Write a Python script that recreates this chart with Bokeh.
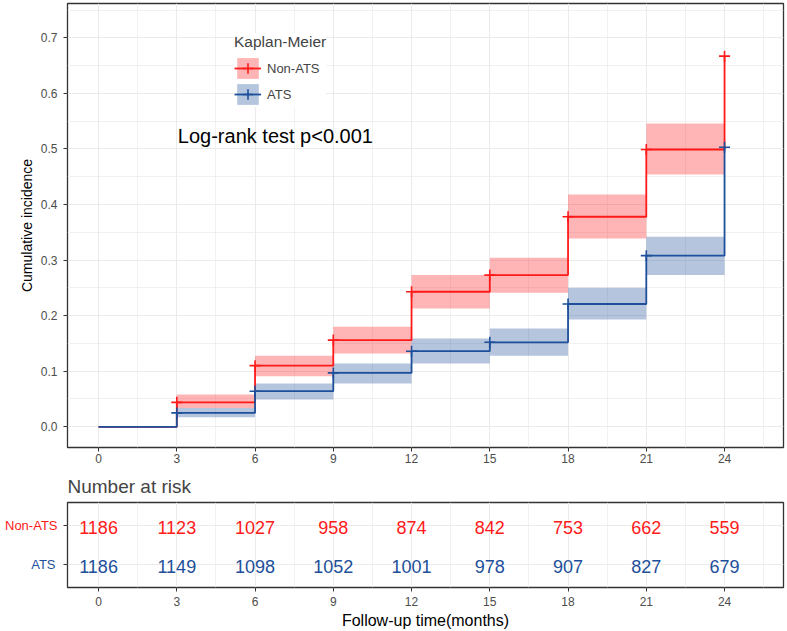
from bokeh.plotting import figure
from bokeh.layouts import column
from bokeh.models import (Range1d, FixedTicker, NumeralTickFormatter, Legend,
                          LegendItem, LinearAxis)
from bokeh.core.properties import value
from bokeh.embed import file_html
from bokeh.resources import INLINE

# ---------------- data ----------------
times = [0, 3, 6, 9, 12, 15, 18, 21, 24]
non_ats_cuminc = [0.0, 0.044, 0.110, 0.156, 0.243, 0.273, 0.378, 0.499, 0.667]
ats_cuminc = [0.0, 0.025, 0.064, 0.097, 0.136, 0.152, 0.221, 0.308, 0.503]

band_start = [3, 6, 9, 12, 15, 18, 21]
band_end = [6, 9, 12, 15, 18, 21, 24]
non_ats_lower = [0.034, 0.091, 0.132, 0.213, 0.241, 0.339, 0.454]
non_ats_upper = [0.058, 0.128, 0.180, 0.273, 0.304, 0.418, 0.546]
ats_lower = [0.017, 0.049, 0.078, 0.114, 0.128, 0.193, 0.273]
ats_upper = [0.034, 0.078, 0.114, 0.159, 0.177, 0.250, 0.342]

censor_times = times[1:]
non_ats_censor = non_ats_cuminc[1:]
ats_censor = ats_cuminc[1:]

groups = ["Non-ATS", "ATS"]
non_ats_risk = [1186, 1123, 1027, 958, 874, 842, 753, 662, 559]
ats_risk = [1186, 1149, 1098, 1052, 1001, 978, 907, 827, 679]

x_ticks = [0, 3, 6, 9, 12, 15, 18, 21, 24]
x_minor = [1.5, 4.5, 7.5, 10.5, 13.5, 16.5, 19.5, 22.5, 25.5]
y_ticks = [0.0, 0.1, 0.2, 0.3, 0.4, 0.5, 0.6, 0.7]
y_minor = [0.05, 0.15, 0.25, 0.35, 0.45, 0.55, 0.65, 0.75]

logrank_text = "Log-rank test p<0.001"
logrank_x = 3.04
logrank_y = 0.524

# ---------------- style ----------------
FONT = "Liberation Sans"
RED = "#FF1A1A"
BLUE = "#1D4F9A"
GRID = "#EBEBEB"
BORDER = "#333333"
TICKTXT = "#4D4D4D"
X_RANGE = (-1.19, 26.26)


def style_axis(ax):
    ax.axis_line_color = None
    ax.major_tick_line_color = BORDER
    ax.major_tick_out = 4
    ax.major_tick_in = 0
    ax.minor_tick_line_color = None
    ax.major_label_text_font = FONT
    ax.major_label_text_font_size = "12px"
    ax.major_label_text_color = TICKTXT
    ax.axis_label_text_font = FONT
    ax.axis_label_text_font_style = "normal"
    ax.axis_label_text_color = "black"


def style_grid(fig, minor_y=True):
    for g in (fig.xgrid, fig.ygrid):
        g.grid_line_color = GRID
        g.grid_line_width = 1.1
        g.minor_grid_line_color = GRID
        g.minor_grid_line_width = 0.7
    if not minor_y:
        fig.ygrid.minor_grid_line_color = None


# ---------------- main KM plot ----------------
p = figure(width=787, height=467, x_range=Range1d(*X_RANGE),
           y_range=Range1d(-0.0373, 0.7618), output_backend="svg",
           toolbar_location=None, min_border_left=67, min_border_right=4,
           min_border_top=3, min_border_bottom=20)
p.background_fill_color = "white"
p.border_fill_color = "white"
p.outline_line_color = BORDER
p.outline_line_width = 1.3

p.xaxis.ticker = FixedTicker(ticks=x_ticks, minor_ticks=x_minor)
p.yaxis.ticker = FixedTicker(ticks=y_ticks, minor_ticks=y_minor)
p.yaxis.formatter = NumeralTickFormatter(format="0.0")
p.xgrid.ticker = FixedTicker(ticks=x_ticks, minor_ticks=x_minor)
p.ygrid.ticker = FixedTicker(ticks=y_ticks, minor_ticks=y_minor)
style_grid(p)
for ax in p.axis:
    style_axis(ax)
p.yaxis.axis_label = "Cumulative incidence"
p.yaxis.axis_label_text_font_size = "14px"
p.yaxis.axis_label_standoff = 3
p.yaxis.major_label_standoff = 6
p.xaxis.major_label_standoff = 2

rq = p.quad(left=band_start, right=band_end, bottom=non_ats_lower, top=non_ats_upper,
            fill_color=RED, fill_alpha=0.32, line_color=None)
bq = p.quad(left=band_start, right=band_end, bottom=ats_lower, top=ats_upper,
            fill_color=BLUE, fill_alpha=0.33, line_color=None)
rl = p.step(x=times, y=non_ats_cuminc, mode="after", line_color=RED, line_width=1.8)
rs = p.scatter(x=censor_times, y=non_ats_censor, marker="cross", size=11,
               line_color=RED, line_width=1.6)
bl = p.step(x=times, y=ats_cuminc, mode="after", line_color=BLUE, line_width=1.8)
bs = p.scatter(x=censor_times, y=ats_censor, marker="cross", size=11,
               line_color=BLUE, line_width=1.6)

p.text(x=[logrank_x], y=[logrank_y], text=[logrank_text], text_font=value(FONT),
       text_font_size="20px", text_align="left", text_baseline="middle",
       text_color="black")

legend = Legend(items=[LegendItem(label=groups[0], renderers=[rq, rl, rs]),
                       LegendItem(label=groups[1], renderers=[bq, bl, bs])],
                location=(167, 340), title="Kaplan-Meier",
                title_text_font=FONT, title_text_font_size="15.5px",
                title_text_font_style="normal", title_standoff=4,
                label_text_font=FONT, label_text_font_size="13px",
                glyph_width=27, glyph_height=26, spacing=0, label_standoff=6,
                padding=5, margin=0, border_line_color=None,
                background_fill_color="white", background_fill_alpha=1.0)
p.add_layout(legend)

# ---------------- risk table ----------------
r = figure(width=787, height=164, x_range=Range1d(*X_RANGE),
           y_range=Range1d(0.4, 2.6), output_backend="svg",
           toolbar_location=None, min_border_left=67, min_border_right=4,
           min_border_top=35, min_border_bottom=44, title="Number at risk")
r.title.text_font = FONT
r.title.text_font_size = "19px"
r.title.text_font_style = "normal"
r.title.align = "left"
r.title.vertical_align = "middle"
r.title.standoff = 10
r.border_fill_color = "white"
r.outline_line_color = BORDER
r.outline_line_width = 1.3

row_pos = {groups[0]: 2, groups[1]: 1}

r.xaxis.ticker = FixedTicker(ticks=x_ticks, minor_ticks=x_minor)
r.xgrid.ticker = FixedTicker(ticks=x_ticks, minor_ticks=x_minor)
r.ygrid.ticker = FixedTicker(ticks=[row_pos[g] for g in groups])
style_grid(r, minor_y=False)
for ax in r.axis:
    style_axis(ax)
r.xaxis.axis_label = "Follow-up time(months)"
r.xaxis.axis_label_text_font_size = "16px"
r.xaxis.axis_label_standoff = 3
r.xaxis.major_label_standoff = 5

# inner left axis: tick marks for both rows, blue "ATS" label
r.yaxis.ticker = FixedTicker(ticks=[row_pos[g] for g in groups])
r.yaxis.major_label_overrides = {row_pos[groups[1]]: groups[1], row_pos[groups[0]]: ""}
r.yaxis.major_label_text_color = BLUE
r.yaxis.major_label_text_font_size = "13px"
r.yaxis.major_label_standoff = 8

# outer left axis: red "Non-ATS" label aligned with the inner labels
outer = LinearAxis(ticker=FixedTicker(ticks=[row_pos[groups[0]]]),
                   major_label_overrides={row_pos[groups[0]]: groups[0]})
style_axis(outer)
outer.major_tick_line_color = None
outer.major_tick_out = 0
outer.major_label_text_color = RED
outer.major_label_text_font_size = "13px"
outer.major_label_standoff = -29
r.add_layout(outer, "left")

r.text(x=times, y=[row_pos[groups[0]]] * len(times), text=[str(v) for v in non_ats_risk],
       text_font=value(FONT), text_font_size="18px", text_align="center",
       text_baseline="middle", text_color=RED, y_offset=2)
r.text(x=times, y=[row_pos[groups[1]]] * len(times), text=[str(v) for v in ats_risk],
       text_font=value(FONT), text_font_size="18px", text_align="center",
       text_baseline="middle", text_color=BLUE, y_offset=2)

layout = column(p, r, spacing=0)
open("out.html", "w").write(file_html(layout, INLINE))
